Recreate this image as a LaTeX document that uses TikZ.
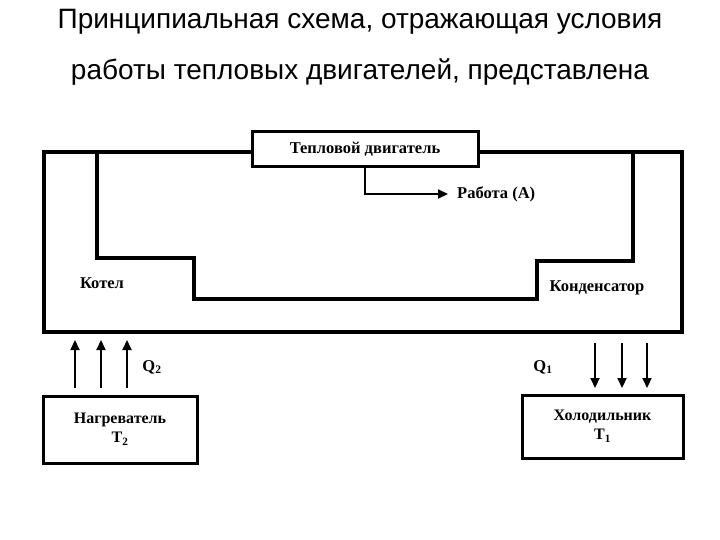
\documentclass[tikz,border=0pt]{standalone}
\usepackage{fontspec}
\setmainfont{Liberation Serif}
\newfontfamily\titlefont{Liberation Sans}
\usetikzlibrary{arrows.meta}
\begin{document}
\begin{tikzpicture}[x=1pt,y=-1pt,
  box/.style={draw,line width=3pt,inner sep=0pt,font=\bfseries\fontsize{16}{19}\selectfont,align=center},
  pipe/.style={line width=3.2pt,line join=miter},
  heat/.style={line width=2.2pt,-{Triangle[length=10pt,width=9pt]}},
  lbl/.style={font=\bfseries\fontsize{16.5}{19}\selectfont,inner sep=0pt},
  title/.style={font=\titlefont\fontsize{28}{32}\selectfont,inner sep=0pt}]
\useasboundingbox (0,0) rectangle (720,540);
\node[title] (t1) at (360,22) {Принципиальная схема, отражающая условия};
\node[title] (t2) at (360,72) {работы тепловых двигателей, представлена};
% engine
\node[box,minimum width=226pt,minimum height=35pt,font=\bfseries\fontsize{16.5}{19}\selectfont] (eng) at (365,149.5) {Тепловой двигатель};
% outer loop
\coordinate (oTL) at (44,152);
\coordinate (oTR) at (682,152);
\coordinate (oBL) at (44,332);
\coordinate (oBR) at (682,332);
\draw[pipe] (eng.west |- oTL) -- (oTL) -- (oBL) -- (oBR) -- (oTR) -- (eng.east |- oTR);
% inner loop
\coordinate (i1) at (97,152);
\coordinate (i2) at (97,258);
\coordinate (i3) at (194,258);
\coordinate (i4) at (194,299);
\coordinate (i5) at (537,299);
\coordinate (i6) at (537,261);
\coordinate (i7) at (633,261);
\coordinate (i8) at (633,152);
\draw[pipe] (i1) -- (i2) -- (i3) -- (i4) -- (i5) -- (i6) -- (i7) -- (i8);
% work
\node[lbl,anchor=west] (work) at (457,194) {Работа (А)};
\coordinate (w1) at (365,194);
\draw[line width=2.2pt,-{Triangle[length=10pt,width=9pt]}] (eng.south -| w1) -- (w1) -- ([xshift=-9pt]w1 -| work.west);
\node[lbl] (kotel) at (102,283) {Котел};
\node[lbl] (kond) at (597,288) {Конденсатор};
% heater
\node[box,minimum width=154pt,minimum height=67pt] (heater) at (120,429.5) {Нагреватель\\T\textsubscript{2}};
\node[box,minimum width=161pt,minimum height=63pt] (cooler) at (602.5,426.5) {Холодильник\\T\textsubscript{1}};
\foreach \x in {75,101,127} \draw[heat] (\x,388) -- (\x,340);
\foreach \x in {595,622,647} \draw[heat] (\x,343) -- (\x,388);
\node[lbl] (q2) at (152,367) {Q\textsubscript{2}};
\node[lbl] (q1) at (543,367) {Q\textsubscript{1}};
\end{tikzpicture}
\end{document}
